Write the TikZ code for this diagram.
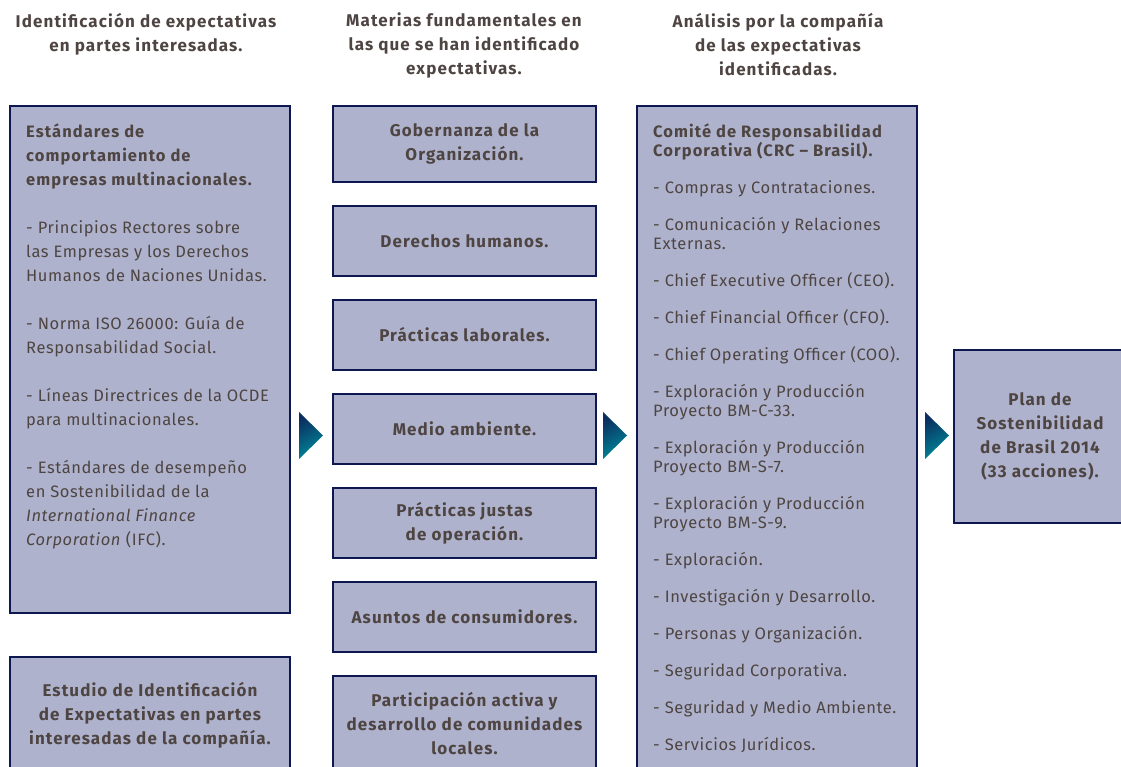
\documentclass[tikz,border=0pt]{standalone}
\usepackage{fontspec}
\setmainfont{Fira Sans}[LetterSpace=3.5, BoldFeatures={LetterSpace=6.5}]
\usetikzlibrary{positioning}
\definecolor{boxfill}{HTML}{AEB2CD}
\definecolor{boxline}{HTML}{0E1850}
\definecolor{textbrown}{HTML}{4E4542}
\definecolor{tipdark}{HTML}{0B2F60}
\definecolor{tipteal}{HTML}{00899A}
\tikzset{
  box/.style={draw=boxline, line width=2pt, fill=boxfill, text=textbrown, inner sep=0pt, outer sep=0pt},
  heading/.style={text=textbrown, font=\bfseries\fontsize{17}{24}\selectfont, align=center, inner sep=0pt},
  midbox/.style={box, minimum width=263pt, minimum height=70pt, font=\bfseries\fontsize{17}{24}\selectfont, align=center},
  bodytext/.style={text=textbrown, align=left, inner sep=0pt},
  tip/.style={shading=axis, top color=tipdark, bottom color=tipteal, shading angle=30}
}
\begin{document}
\begin{tikzpicture}[x=1pt,y=-1pt]
    \useasboundingbox (0,0) rectangle (1121,767);
    \clip (0,0) rectangle (1121,767);
    % column headings
    \node[heading, anchor=north] (h1) at (146,13) {Identificación de expectativas\\ en partes interesadas.};
    \node[heading, anchor=north] (h2) at (464,13) {Materias fundamentales en\\ las que se han identificado\\ expectativas.};
    \node[heading, anchor=north] (h3) at (778,13) {Análisis por la compañía\\ de las expectativas\\ identificadas.};
    % first column
    \node[box, minimum width=280pt, minimum height=507pt, anchor=north west] (std) at (10,106) {};
    \node[bodytext, anchor=north west, font=\fontsize{16.5}{24}\selectfont] (stdtext) at ([shift={(16,18)}]std.north west) {\textbf{Estándares de}\\ \textbf{comportamiento de}\\ \textbf{empresas multinacionales.}\\[24pt]
        - Principios Rectores sobre\\ las Empresas y los Derechos\\ Humanos de Naciones Unidas.\\[24pt]
        - Norma ISO 26000: Guía de\\ Responsabilidad Social.\\[24pt]
        - Líneas Directrices de la OCDE\\ para multinacionales.\\[24pt]
        - Estándares de desempeño\\ en Sostenibilidad de la\\ \textit{International Finance}\\ \textit{Corporation} (IFC).};
    \node[box, minimum width=280pt, minimum height=116pt, anchor=north west, font=\bfseries\fontsize{17}{24}\selectfont, align=center] (study) at (10,657) {Estudio de Identificación\\ de Expectativas en partes\\ interesadas de la compañía.};
    % second column
    \node[midbox, minimum height=76pt, anchor=north west] (gob) at (333,106) {Gobernanza de la\\ Organización.};
    \node[midbox, below=24pt of gob] (der) {Derechos humanos.};
    \node[midbox, below=24pt of der] (lab) {Prácticas laborales.};
    \node[midbox, below=24pt of lab] (med) {Medio ambiente.};
    \node[midbox, below=24pt of med] (jus) {Prácticas justas\\ de operación.};
    \node[midbox, below=24pt of jus] (con) {Asuntos de consumidores.};
    \node[midbox, minimum height=96pt, below=24pt of con] (com) {Participación activa y\\ desarrollo de comunidades\\ locales.};
    % third column
    \node[box, minimum width=280pt, minimum height=700pt, anchor=north west] (crc) at (637,106) {};
    \node[bodytext, anchor=north west, font=\fontsize{16.5}{19}\selectfont] (crctext) at ([shift={(16,18)}]crc.north west) {\textbf{Comité de Responsabilidad}\\ \textbf{Corporativa (CRC – Brasil).}\\[18pt]
        - Compras y Contrataciones.\\[18pt]
        - Comunicación y Relaciones\\ Externas.\\[18pt]
        - Chief Executive Officer (CEO).\\[18pt]
        - Chief Financial Officer (CFO).\\[18pt]
        - Chief Operating Officer (COO).\\[18pt]
        - Exploración y Producción\\ Proyecto BM-C-33.\\[18pt]
        - Exploración y Producción\\ Proyecto BM-S-7.\\[18pt]
        - Exploración y Producción\\ Proyecto BM-S-9.\\[18pt]
        - Exploración.\\[18pt]
        - Investigación y Desarrollo.\\[18pt]
        - Personas y Organización.\\[18pt]
        - Seguridad Corporativa.\\[18pt]
        - Seguridad y Medio Ambiente.\\[18pt]
        - Servicios Jurídicos.};
    % result
    \node[box, minimum width=172pt, minimum height=173pt, anchor=north west, font=\bfseries\fontsize{17}{24}\selectfont, align=center] (plan) at (954,350) {Plan de\\ Sostenibilidad\\ de Brasil 2014\\ (33 acciones).};
    % arrow tips
    \shade[tip] (299,412) -- (323,435.5) -- (299,459) -- cycle;
    \shade[tip] (603,412) -- (627,435.5) -- (603,459) -- cycle;
    \shade[tip] (925,412) -- (949,435.5) -- (925,459) -- cycle;
\end{tikzpicture}
\end{document}
